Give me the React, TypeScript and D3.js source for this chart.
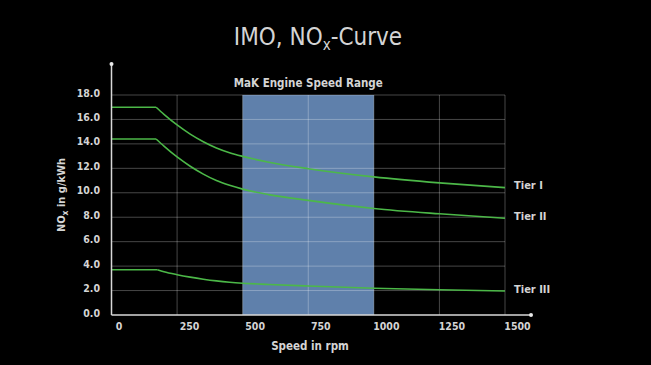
import React, { useEffect } from 'react';
import * as d3 from 'd3';

// values
const xTicks = [0, 250, 500, 750, 1000, 1250, 1500];
const yTicks = [0, 2, 4, 6, 8, 10, 12, 14, 16, 18];
const speedRange = [500, 1000];

const tier1 = [
  [0, 17.0], [170, 17.0], [200, 16.42], [250, 15.55], [300, 14.8], [350, 14.18],
  [400, 13.67], [450, 13.28], [500, 12.98], [600, 12.5], [750, 11.97],
  [1000, 11.3], [1250, 10.81], [1500, 10.42],
];
const tier2 = [
  [0, 14.4], [170, 14.4], [200, 13.82], [250, 12.93], [300, 12.17], [350, 11.53],
  [400, 11.0], [450, 10.61], [500, 10.3], [600, 9.85], [750, 9.38],
  [1000, 8.72], [1250, 8.28], [1500, 7.92],
];
const tier3 = [
  [0, 3.7], [175, 3.7], [200, 3.54], [250, 3.3], [300, 3.1], [350, 2.93],
  [400, 2.79], [450, 2.68], [500, 2.6], [600, 2.5], [750, 2.37],
  [1000, 2.19], [1250, 2.06], [1500, 1.96],
];
const tierNames = ['Tier I', 'Tier II', 'Tier III'];

const W = 651;
const H = 365;
const FONT = '"Liberation Sans Narrow", "DejaVu Sans Condensed", "Roboto", sans-serif';
const TEXT = '#d4d4d4';
const GREEN = '#4cb848';

const App: React.FC = () => {
  useEffect(() => {
    document.body.style.margin = '0';
    document.body.style.background = '#000';
  }, []);

  const x = d3.scaleLinear().domain([0, 1500]).range([111.5, 505]);
  const y = d3.scaleLinear().domain([0, 18]).range([315, 95]);

  const flat = d3.line<number[]>().x(d => x(d[0])).y(d => y(d[1]));
  const curve = d3.line<number[]>().x(d => x(d[0])).y(d => y(d[1])).curve(d3.curveMonotoneX);

  const tiers = [tier1, tier2, tier3];
  const labelY = [188.5, 219.5, 292.5];

  return (
    <svg width={W} height={H} style={{ display: 'block', background: '#000', fontFamily: FONT }}>
      <rect width={W} height={H} fill="#000" />

      {/* title */}
      <text x={318} y={45} textAnchor="middle" fill={TEXT} fontSize={24} style={{ fontStretch: 'condensed' }}>
        IMO, NO<tspan fontSize={15} dy={5}>x</tspan><tspan dy={-5}>-Curve</tspan>
      </text>

      {/* engine speed range */}
      <rect
        x={x(speedRange[0])}
        y={y(18)}
        width={x(speedRange[1]) - x(speedRange[0])}
        height={y(0) - y(18)}
        fill="#5f80ab"
      />
      <text x={x((speedRange[0] + speedRange[1]) / 2)} y={86.5} textAnchor="middle" fill={TEXT}
        fontSize={11.5} fontWeight="bold">
        MaK Engine Speed Range
      </text>

      {/* grid */}
      {yTicks.filter(t => t > 0).map(t => (
        <line key={'h' + t} x1={x(0)} x2={x(1500)} y1={y(t)} y2={y(t)}
          stroke="rgba(255,255,255,0.28)" strokeWidth={1} />
      ))}
      {xTicks.filter(t => t > 0).map(t => (
        <line key={'v' + t} x1={x(t)} x2={x(t)} y1={y(0)} y2={y(18)}
          stroke="rgba(255,255,255,0.28)" strokeWidth={1} />
      ))}

      {/* curves */}
      {tiers.map((data, i) => {
        const k = data.findIndex((d, j) => j > 0 && d[1] !== data[0][1]) - 1;
        return (
          <g key={i} fill="none" stroke={GREEN} strokeWidth={1.6}>
            <path d={flat(data.slice(0, k + 1)) || ''} />
            <path d={curve(data.slice(k)) || ''} />
          </g>
        );
      })}

      {/* axes */}
      <line x1={x(0)} x2={531} y1={y(0)} y2={y(0)} stroke="#d8d8d8" strokeWidth={1.5} />
      <line x1={x(0)} x2={x(0)} y1={y(0)} y2={64} stroke="#d8d8d8" strokeWidth={1.5} />
      <circle cx={531} cy={y(0)} r={2} fill="#e8e8e8" />
      <circle cx={x(0)} cy={64} r={2} fill="#e8e8e8" />

      {/* y tick labels */}
      {yTicks.map(t => (
        <text key={'yl' + t} x={100} y={y(t) + 1.5} textAnchor="end" fill={TEXT}
          fontSize={10.5} fontWeight="bold">
          {t.toFixed(1)}
        </text>
      ))}

      {/* x tick labels */}
      {xTicks.map(t => (
        <text key={'xl' + t} x={x(t) + (t === 0 ? 7.5 : 12.5)} y={329.5} textAnchor="middle" fill={TEXT}
          fontSize={10.5} fontWeight="bold">
          {t}
        </text>
      ))}

      <text x={310} y={349.5} textAnchor="middle" fill={TEXT} fontSize={11.5} fontWeight="bold">
        Speed in rpm
      </text>

      <text transform="translate(64.5,195) rotate(-90)" textAnchor="middle" fill={TEXT}
        fontSize={11} fontWeight="bold">
        NO<tspan fontSize={8.5} dy={3}>x</tspan><tspan dy={-3}> in g/kWh</tspan>
      </text>

      {/* tier labels */}
      {tierNames.map((n, i) => (
        <text key={n} x={514} y={labelY[i]} fill={TEXT} fontSize={11} fontWeight="bold">
          {n}
        </text>
      ))}
    </svg>
  );
};

export default App;
